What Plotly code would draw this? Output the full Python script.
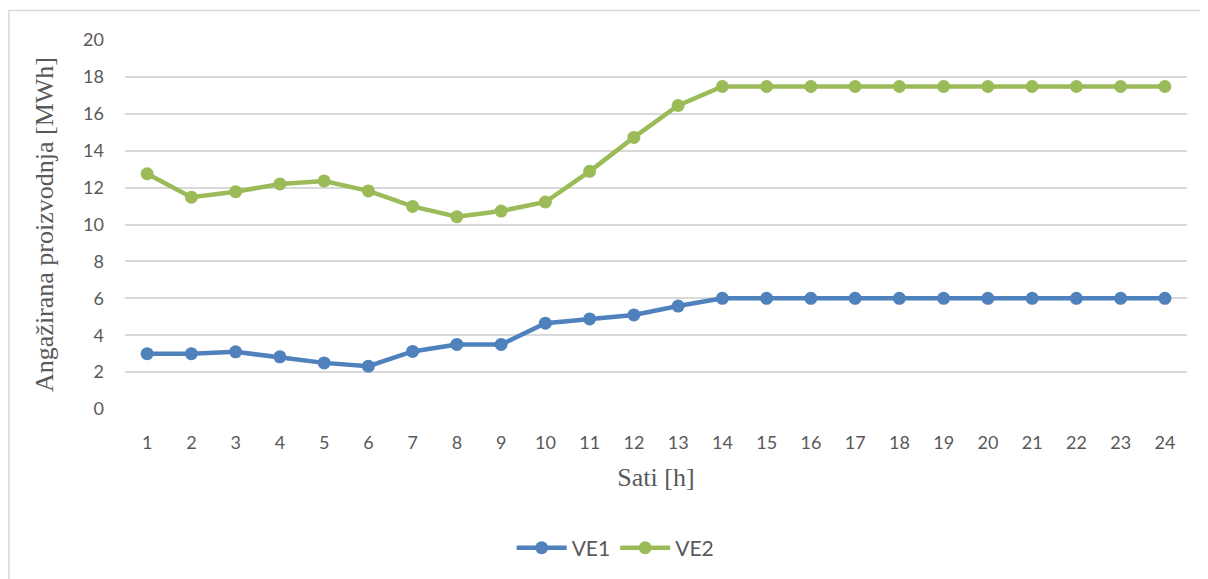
import plotly.graph_objects as go

hours = list(range(1, 25))
ve1 = [3.0, 3.0, 3.1, 2.83, 2.5, 2.32, 3.12, 3.5, 3.5, 4.65, 4.88, 5.1, 5.58,
       6.0, 6.0, 6.0, 6.0, 6.0, 6.0, 6.0, 6.0, 6.0, 6.0, 6.0]
ve2 = [12.75, 11.48, 11.78, 12.2, 12.36, 11.82, 10.98, 10.42, 10.73, 11.22,
       12.88, 14.72, 16.45, 17.48, 17.48, 17.48, 17.48, 17.48, 17.48, 17.48,
       17.48, 17.48, 17.48, 17.48]
y_ticks = list(range(0, 21, 2))

SERIES = {"VE1": (ve1, "#4f81bd"), "VE2": (ve2, "#9bbb59")}
SANS = "Lato, 'Open Sans', sans-serif"
TICK_FONT = {"family": SANS, "size": 18, "color": "#595959"}
TITLE_FONT = {"family": "'Liberation Serif', 'Times New Roman', serif", "size": 26, "color": "#595959"}

fig = go.Figure()
for name, (values, color) in SERIES.items():
    fig.add_trace(
        go.Scatter(
            x=hours,
            y=values,
            mode="lines+markers",
            name=name,
            line={"color": color, "width": 4.5},
            marker={"color": color, "size": 13},
        )
    )

# light frame around the whole chart, like the Office chart area border
# (left edge kept just inside the svg, otherwise it gets clipped)
fig.add_shape(
    type="rect",
    xref="paper",
    yref="paper",
    x0=-0.1093,
    x1=1.2,
    y0=-0.7,
    y1=1.08,
    line={"color": "#d9d9d9", "width": 1.5},
    layer="below",
)

# the page body adds an 8px margin, so the margins are shifted by that much
fig.update_layout(
    width=1208,
    height=579,
    margin={"l": 117, "r": 29, "t": 32, "b": 178},
    paper_bgcolor="white",
    plot_bgcolor="white",
    showlegend=True,
    legend={
        "orientation": "h",
        "x": 0.462,
        "xanchor": "center",
        "y": -0.377,
        "yanchor": "middle",
        "font": {"family": SANS, "size": 21, "color": "#595959"},
        "itemwidth": 50,
    },
    xaxis={
        "range": [0.5, 24.5],
        "tickmode": "array",
        "tickvals": hours,
        "ticktext": [str(h) for h in hours],
        "showgrid": False,
        "zeroline": False,
        "showline": False,
        "tickfont": TICK_FONT,
        "ticklabelstandoff": 21,
        "title": {"text": "Sati [h]", "font": TITLE_FONT, "standoff": 15},
        "fixedrange": True,
    },
    yaxis={
        "range": [0, 20],
        "tickmode": "array",
        "tickvals": y_ticks,
        "showgrid": True,
        "gridcolor": "#d9d9d9",
        "gridwidth": 1.5,
        "zeroline": False,
        "showline": False,
        "tickfont": TICK_FONT,
        "ticklabelstandoff": 20,
        "title": {"text": "Angažirana proizvodnja [MWh]", "font": TITLE_FONT, "standoff": 22},
        "fixedrange": True,
    },
)

fig.write_html("out.html")
